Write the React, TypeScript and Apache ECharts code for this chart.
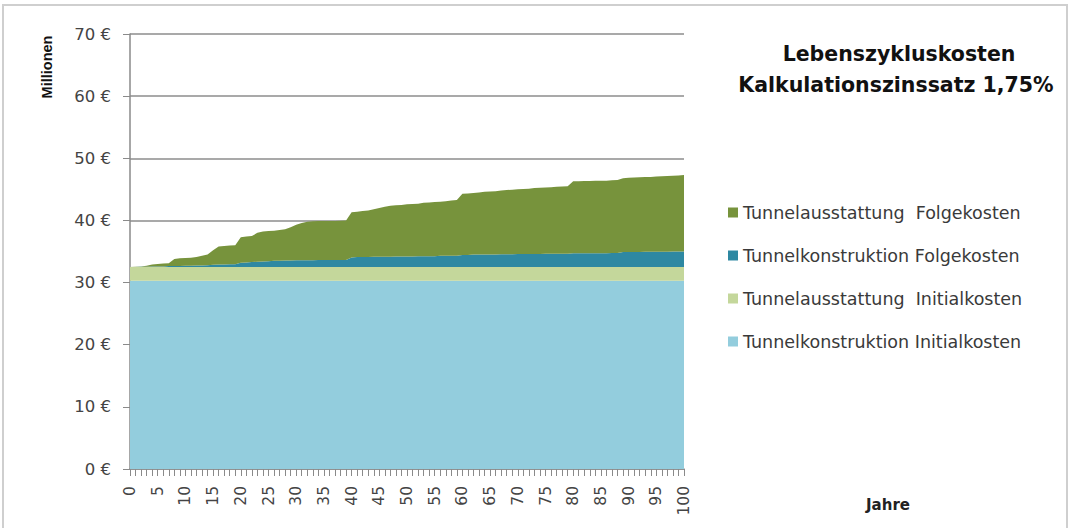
import React, { useEffect, useRef } from "react";
import * as echarts from "echarts";

const years: string[] = [];
for (let i = 0; i <= 100; i++) years.push(String(i));

const yTicks = [0, 10, 20, 30, 40, 50, 60, 70];

const tkInitial = [
  30.3, 30.3, 30.3, 30.3, 30.3, 30.3, 30.3, 30.3, 30.3, 30.3,
  30.3, 30.3, 30.3, 30.3, 30.3, 30.3, 30.3, 30.3, 30.3, 30.3,
  30.3, 30.3, 30.3, 30.3, 30.3, 30.3, 30.3, 30.3, 30.3, 30.3,
  30.3, 30.3, 30.3, 30.3, 30.3, 30.3, 30.3, 30.3, 30.3, 30.3,
  30.3, 30.3, 30.3, 30.3, 30.3, 30.3, 30.3, 30.3, 30.3, 30.3,
  30.3, 30.3, 30.3, 30.3, 30.3, 30.3, 30.3, 30.3, 30.3, 30.3,
  30.3, 30.3, 30.3, 30.3, 30.3, 30.3, 30.3, 30.3, 30.3, 30.3,
  30.3, 30.3, 30.3, 30.3, 30.3, 30.3, 30.3, 30.3, 30.3, 30.3,
  30.3, 30.3, 30.3, 30.3, 30.3, 30.3, 30.3, 30.3, 30.3, 30.3,
  30.3, 30.3, 30.3, 30.3, 30.3, 30.3, 30.3, 30.3, 30.3, 30.3,
  30.3,
];

const taInitial = [
  2.2, 2.2, 2.2, 2.2, 2.2, 2.2, 2.2, 2.2, 2.2, 2.2,
  2.2, 2.2, 2.2, 2.2, 2.2, 2.2, 2.2, 2.2, 2.2, 2.2,
  2.2, 2.2, 2.2, 2.2, 2.2, 2.2, 2.2, 2.2, 2.2, 2.2,
  2.2, 2.2, 2.2, 2.2, 2.2, 2.2, 2.2, 2.2, 2.2, 2.2,
  2.2, 2.2, 2.2, 2.2, 2.2, 2.2, 2.2, 2.2, 2.2, 2.2,
  2.2, 2.2, 2.2, 2.2, 2.2, 2.2, 2.2, 2.2, 2.2, 2.2,
  2.2, 2.2, 2.2, 2.2, 2.2, 2.2, 2.2, 2.2, 2.2, 2.2,
  2.2, 2.2, 2.2, 2.2, 2.2, 2.2, 2.2, 2.2, 2.2, 2.2,
  2.2, 2.2, 2.2, 2.2, 2.2, 2.2, 2.2, 2.2, 2.2, 2.2,
  2.2, 2.2, 2.2, 2.2, 2.2, 2.2, 2.2, 2.2, 2.2, 2.2,
  2.2,
];

const tkFolge = [
  0, 0, 0.05, 0.05, 0.1, 0.1, 0.1, 0.15, 0.15, 0.15,
  0.2, 0.2, 0.25, 0.25, 0.3, 0.35, 0.4, 0.4, 0.45, 0.45,
  0.7, 0.75, 0.8, 0.85, 0.9, 0.95, 1.0, 1.0, 1.05, 1.05,
  1.1, 1.1, 1.1, 1.1, 1.15, 1.15, 1.15, 1.15, 1.15, 1.15,
  1.55, 1.6, 1.6, 1.6, 1.65, 1.65, 1.65, 1.65, 1.7, 1.7,
  1.7, 1.7, 1.75, 1.75, 1.75, 1.75, 1.8, 1.8, 1.8, 1.8,
  1.95, 1.95, 2.0, 2.0, 2.0, 2.0, 2.0, 2.05, 2.05, 2.05,
  2.1, 2.1, 2.1, 2.1, 2.1, 2.15, 2.15, 2.15, 2.15, 2.15,
  2.2, 2.2, 2.2, 2.2, 2.2, 2.2, 2.2, 2.25, 2.25, 2.4,
  2.4, 2.4, 2.4, 2.45, 2.45, 2.45, 2.45, 2.45, 2.5, 2.5,
  2.5,
];

const taFolge = [
  0, 0.05, 0.05, 0.15, 0.3, 0.4, 0.45, 0.45, 1.15, 1.25,
  1.25, 1.3, 1.35, 1.55, 1.7, 2.35, 2.9, 3.0, 3.0, 3.05,
  4.1, 4.15, 4.2, 4.65, 4.8, 4.85, 4.85, 4.95, 5.05, 5.35,
  5.7, 6.0, 6.2, 6.25, 6.25, 6.25, 6.25, 6.25, 6.3, 6.35,
  7.25, 7.3, 7.4, 7.5, 7.65, 7.85, 8.05, 8.2, 8.25, 8.3,
  8.4, 8.45, 8.45, 8.6, 8.65, 8.7, 8.7, 8.8, 8.9, 9.0,
  9.85, 9.9, 9.9, 10.0, 10.1, 10.15, 10.2, 10.25, 10.35, 10.4,
  10.4, 10.45, 10.5, 10.6, 10.65, 10.65, 10.7, 10.75, 10.8, 10.85,
  11.6, 11.6, 11.65, 11.65, 11.7, 11.7, 11.7, 11.7, 11.75, 11.9,
  11.95, 12.0, 12.05, 12.05, 12.05, 12.1, 12.15, 12.2, 12.2, 12.25,
  12.3,
];

const seriesNames = [
  "Tunnelkonstruktion Initialkosten",
  "Tunnelausstattung  Initialkosten",
  "Tunnelkonstruktion Folgekosten",
  "Tunnelausstattung  Folgekosten",
];
const seriesColors = ["#93cddd", "#c4d79b", "#2e88a2", "#77933c"];
const seriesData = [tkInitial, taInitial, tkFolge, taFolge];

const titleLines = ["Lebenszykluskosten", "Kalkulationszinssatz 1,75%"];

export default function App() {
  const ref = useRef<HTMLDivElement>(null);
  useEffect(() => {
    document.body.style.margin = "0";
    const chart = echarts.init(ref.current!, undefined, { renderer: "svg" });
    chart.setOption({
      animation: false,
      backgroundColor: "#ffffff",
      grid: { left: 130, right: 387, top: 34, bottom: 59 },
      legend: {
        orient: "vertical",
        left: 723,
        top: 198,
        itemWidth: 10,
        itemHeight: 10,
        itemGap: 24,
        icon: "rect",
        data: [seriesNames[3], seriesNames[2], seriesNames[1], seriesNames[0]],
        textStyle: {
          fontFamily: "DejaVu Sans",
          fontSize: 17.5,
          lineHeight: 19,
          color: "#3a3a3a",
          padding: [0, 0, 0, 0],
        },
      },
      xAxis: {
        type: "category",
        data: years,
        boundaryGap: false,
        axisLine: { lineStyle: { color: "#8a8a8a", width: 1.5 } },
        axisTick: { interval: 0, length: 7, lineStyle: { color: "#8a8a8a" } },
        axisLabel: {
          interval: 4,
          rotate: 90,
          fontFamily: "DejaVu Sans",
          fontSize: 15.5,
          color: "#444",
          margin: 17,
        },
        splitLine: { show: false },
      },
      yAxis: {
        type: "value",
        min: yTicks[0],
        max: yTicks[yTicks.length - 1],
        interval: 10,
        axisLine: { show: true, lineStyle: { color: "#8a8a8a", width: 1.5 } },
        axisTick: { show: true, length: 7, lineStyle: { color: "#8a8a8a" } },
        axisLabel: {
          formatter: "{value} €",
          fontFamily: "DejaVu Sans",
          fontSize: 16.5,
          color: "#444",
          margin: 19,
        },
        splitLine: { lineStyle: { color: "#8c8c8c", width: 1.5 } },
      },
      series: seriesNames.map((name, i) => ({
        name,
        type: "line",
        stack: "total",
        data: seriesData[i],
        showSymbol: false,
        symbol: "none",
        lineStyle: { width: 0 },
        itemStyle: { color: seriesColors[i] },
        areaStyle: { color: seriesColors[i], opacity: 1 },
        z: 1,
      })),
      graphic: [
        {
          type: "rect",
          shape: { x: 3, y: 5, width: 1064, height: 540 },
          style: { fill: "none", stroke: "#cfcfcf", lineWidth: 2 },
          silent: true,
        },
        {
          type: "text",
          x: 899,
          y: 54,
          style: {
            text: titleLines[0],
            fontFamily: "DejaVu Sans",
            fontWeight: "bold",
            fontSize: 20.5,
            fill: "#111",
            align: "center",
            verticalAlign: "middle",
          },
        },
        {
          type: "text",
          x: 896,
          y: 85,
          style: {
            text: titleLines[1],
            fontFamily: "DejaVu Sans",
            fontWeight: "bold",
            fontSize: 20.5,
            fill: "#111",
            align: "center",
            verticalAlign: "middle",
          },
        },
        {
          type: "text",
          x: 47,
          y: 67,
          rotation: Math.PI / 2,
          style: {
            text: "Millionen",
            fontFamily: "Liberation Sans",
            fontWeight: "bold",
            fontSize: 14.5,
            fill: "#111",
            align: "center",
            verticalAlign: "middle",
          },
        },
        {
          type: "text",
          x: 888,
          y: 505,
          style: {
            text: "Jahre",
            fontFamily: "DejaVu Sans",
            fontWeight: "bold",
            fontSize: 15,
            fill: "#222",
            align: "center",
            verticalAlign: "middle",
          },
        },
      ],
    });
    return () => chart.dispose();
  }, []);
  return <div ref={ref} style={{ width: 1071, height: 528 }} />;
}
